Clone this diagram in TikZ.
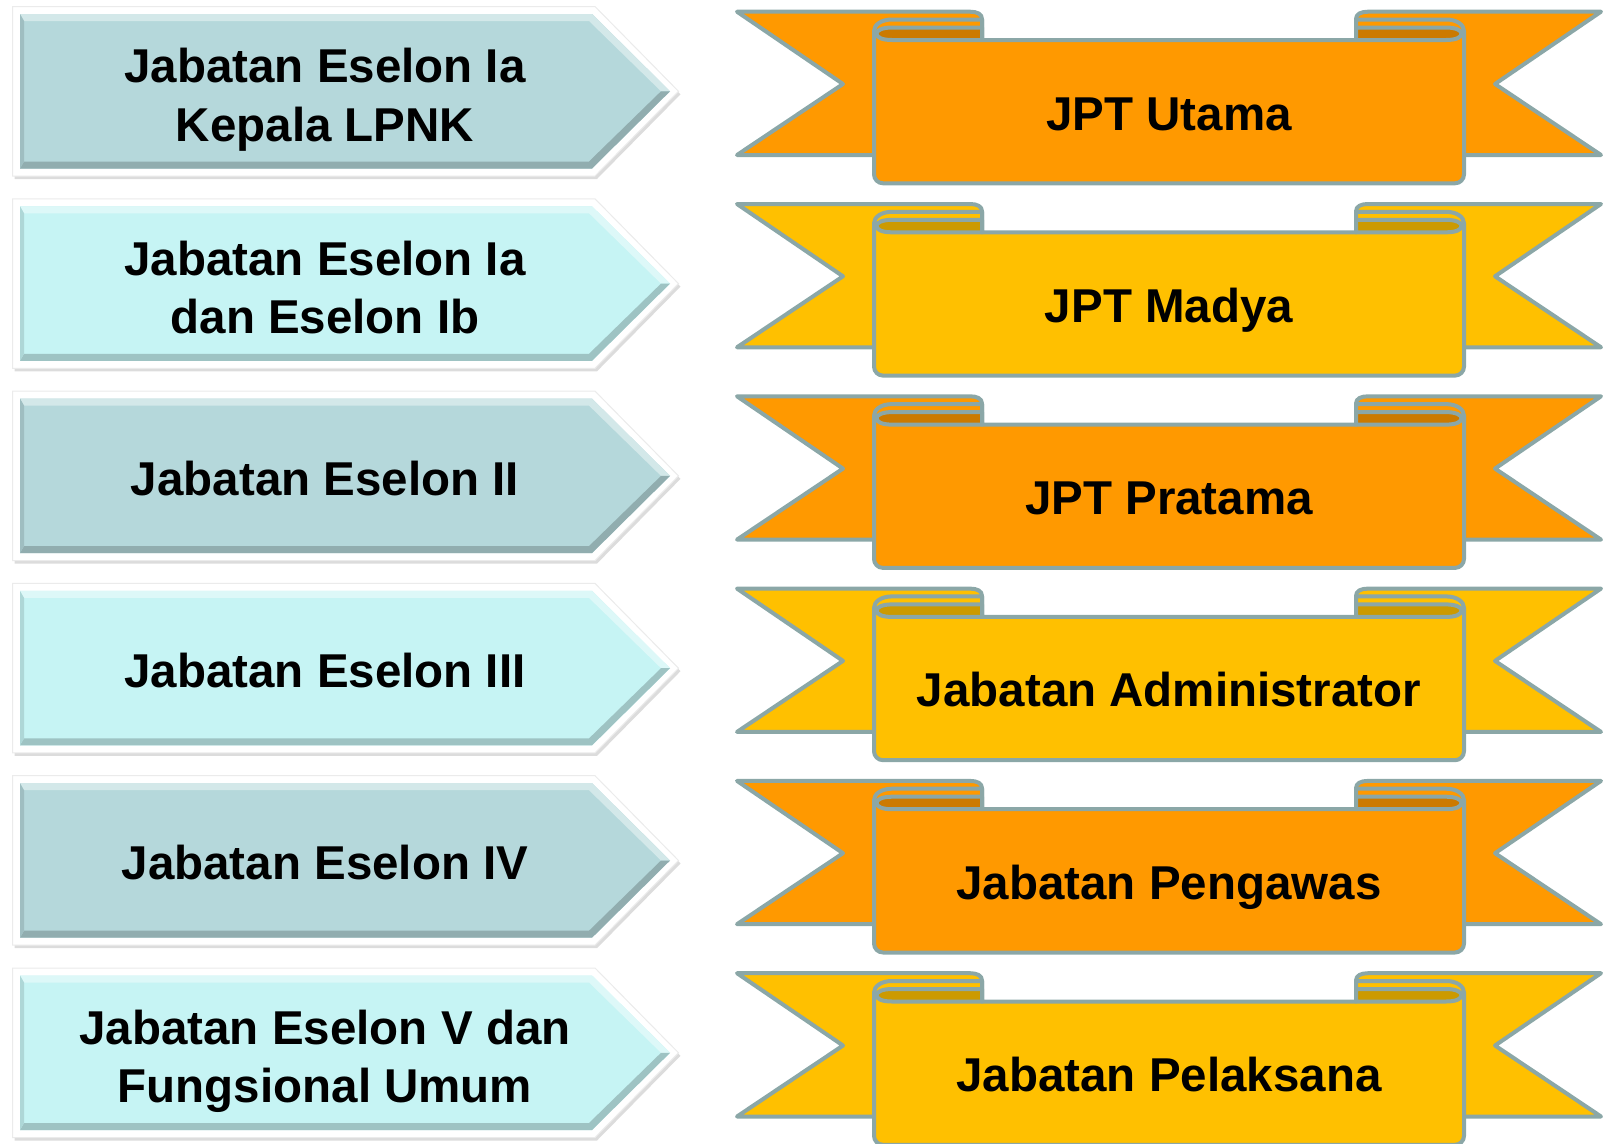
\documentclass[tikz,border=0pt]{standalone}
\usepackage{fontspec}
\setmainfont{Liberation Sans}
\usepackage{xcolor}
\usetikzlibrary{shadows}

\definecolor{tealgray}{HTML}{B5D8DB}
\definecolor{paleaqua}{HTML}{C6F4F4}
\definecolor{ribbonorange}{HTML}{FF9900}
\definecolor{ribbonorangedark}{HTML}{CC7A00}
\definecolor{ribbonyellow}{HTML}{FFC000}
\definecolor{ribbonyellowdark}{HTML}{CC9A00}
\definecolor{ribbonrim}{HTML}{8BA7A7}

\begin{document}
\begin{tikzpicture}[
		x=1pt, y=-1pt,
		tagtext/.style={
			anchor=base,
			align=center,
			font=\fontsize{47.5}{58.3}\selectfont\bfseries
		},
		bannertext/.style={
			anchor=base,
			font=\fontsize{47.5}{58.3}\selectfont\bfseries
		},
		rim/.style={draw=ribbonrim, line width=4pt, line join=round},
		pics/tag/.style={code={
			\fill[white, draw=black!8, line width=1pt,
				drop shadow={shadow xshift=2pt, shadow yshift=-3pt, opacity=.28}]
				(12.5,6.5) -- (595,6.5) -- (678.5,91.3) -- (595,176) -- (12.5,176) -- cycle;
			\fill[#1] (20,14) -- (592,14) -- (670,91.3) -- (592,168.5) -- (20,168.5) -- cycle;
			\fill[#1!60!white] (20,14) -- (592,14) -- (670,91.3) -- (661,91.3) -- (589,21) -- (24,21) -- cycle;
			\fill[#1!80!black] (20,168.5) -- (592,168.5) -- (670,91.3) -- (661,91.3) -- (589,161.5) -- (24,161.5) -- cycle;
			\fill[#1!88!black] (20,14) -- (24,21) -- (24,161.5) -- (20,168.5) -- cycle;
		}},
		pics/banner/.style 2 args={code={
			% tails
			\filldraw[rim, fill=#1] (737,11.7) -- (970,11.7) .. controls (977,11.7) and (982,14) .. (982,19)
				-- (982,155) -- (737,155) -- (843,84) -- cycle;
			\filldraw[rim, fill=#1] (1601,11.7) -- (1368,11.7) .. controls (1361,11.7) and (1356,14) .. (1356,19)
				-- (1356,155) -- (1601,155) -- (1495,84) -- cycle;
			% band
			\filldraw[rim, fill=#1] (892,19.5) -- (982,19.5) -- (982,40) -- (1356,40) -- (1356,19.5) -- (1446,19.5)
				.. controls (1457,19.5) and (1464,25) .. (1464,31) [rounded corners=9pt] -- (1464,183.3)
				-- (874,183.3) -- (874,60) [sharp corners] -- (874,31) .. controls (874,25) and (881,19.5) .. (892,19.5) -- cycle;
			% curls
			\filldraw[rim, fill=#2] (982,27.5) -- (892,27.5) .. controls (882,27.5) and (876.5,30.5) .. (876.5,33.5)
				.. controls (876.5,37.5) and (882,40) .. (892,40) -- (982,40) -- cycle;
			\filldraw[rim, fill=#2] (1356,27.5) -- (1446,27.5) .. controls (1456,27.5) and (1461.5,30.5) .. (1461.5,33.5)
				.. controls (1461.5,37.5) and (1456,40) .. (1446,40) -- (1356,40) -- cycle;
		}}
		]
		\useasboundingbox (0,0) rectangle (1603,1143);
		\clip (0,0) rectangle (1603,1143);

		\pic at (0,0) {tag=tealgray};
		\pic at (0,192.3) {tag=paleaqua};
		\pic at (0,384.6) {tag=tealgray};
		\pic at (0,576.9) {tag=paleaqua};
		\pic at (0,769.2) {tag=tealgray};
		\pic at (0,961.5) {tag=paleaqua};

		\pic at (0,0) {banner={ribbonorange}{ribbonorangedark}};
		\pic at (0,192.3) {banner={ribbonyellow}{ribbonyellowdark}};
		\pic at (0,384.6) {banner={ribbonorange}{ribbonorangedark}};
		\pic at (0,576.9) {banner={ribbonyellow}{ribbonyellowdark}};
		\pic at (0,769.2) {banner={ribbonorange}{ribbonorangedark}};
		\pic at (0,961.5) {banner={ribbonyellow}{ribbonyellowdark}};

		\node[tagtext] (e1) at (325,141.0) {Jabatan Eselon Ia\\Kepala LPNK};
		\node[tagtext] (e2) at (325,333.3) {Jabatan Eselon Ia\\dan Eselon Ib};
		\node[tagtext] (e3) at (325,495.0) {Jabatan Eselon II};
		\node[tagtext] (e4) at (325,687.3) {Jabatan Eselon III};
		\node[tagtext] (e5) at (325,879.6) {Jabatan Eselon IV};
		\node[tagtext] (e6) at (325,1102.5) {Jabatan Eselon V dan\\Fungsional Umum};

		\node[bannertext] (j1) at (1169,130) {JPT Utama};
		\node[bannertext] (j2) at (1169,322.3) {JPT Madya};
		\node[bannertext] (j3) at (1169,514.6) {JPT Pratama};
		\node[bannertext] (j4) at (1169,706.9) {Jabatan Administrator};
		\node[bannertext] (j5) at (1169,899.2) {Jabatan Pengawas};
		\node[bannertext] (j6) at (1169,1091.5) {Jabatan Pelaksana};
	\end{tikzpicture}
\end{document}
